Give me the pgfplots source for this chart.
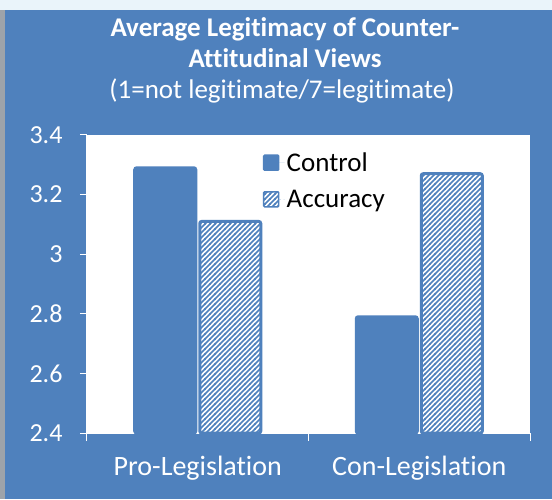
\documentclass[border=0pt]{standalone}
\usepackage{fontspec}
\setmainfont{Carlito}[Ligatures=NoCommon]
\usepackage{pgfplots}
\pgfplotsset{compat=1.18}
\usetikzlibrary{patterns}

\definecolor{bgblue}{HTML}{4F81BD}
\definecolor{stripcol}{HTML}{EAF4FA}
\definecolor{edgegray}{HTML}{9DA3AA}

\pgfdeclarepatternformonly{hatch}{\pgfqpoint{-1pt}{-1pt}}{\pgfqpoint{6pt}{6pt}}{\pgfqpoint{5pt}{5pt}}{%
  \pgfsetlinewidth{1.5pt}%
  \pgfpathmoveto{\pgfqpoint{-0.5pt}{-0.5pt}}%
  \pgfpathlineto{\pgfqpoint{5.5pt}{5.5pt}}%
  \pgfusepath{stroke}}

\begin{document}
\begin{tikzpicture}
\useasboundingbox (0,0) rectangle (552pt,499pt);
\fill[stripcol] (0,489pt) rectangle (552pt,499pt);
\fill[edgegray] (0,0) rectangle (5pt,489pt);
\fill[bgblue] (5pt,0) rectangle (552pt,489pt);

\node[white, font=\bfseries\fontsize{27}{31}\selectfont, align=center]
  at (285pt,456.5pt) {Average Legitimacy of Counter-\\Attitudinal Views};
\node[white, font=\fontsize{27}{30}\selectfont]
  at (282pt,408pt) {(1=not legitimate/7=legitimate)};

\begin{axis}[
    at={(87pt,66pt)}, anchor=south west,
    scale only axis,
    width=443pt, height=298pt,
    ybar=4pt, bar width=61pt,
    xmin=-0.5, xmax=1.5,
    ymin=2.4, ymax=3.4,
    axis background/.style={fill=white},
    axis line style={white, line width=1pt},
    axis x line*=bottom, axis y line*=left,
    xtick={0,1},
    xticklabels={Pro-Legislation, Con-Legislation},
    major x tick style={draw=none},
    minor xtick={-0.5,0.5,1.5},
    minor x tick style={white, line width=1pt},
    minor tick length=8pt,
    ytick={2.4,2.6,2.8,3,3.2,3.4},
    yticklabels={2.4,2.6,2.8,3,3.2,3.4},
    y tick style={white, line width=1pt},
    major tick length=7pt,
    tick align=outside,
    xticklabel style={white, font=\fontsize{28}{32}\selectfont, yshift=-13pt},
    yticklabel style={white, font=\fontsize{26}{30}\selectfont, xshift=-14pt},
    legend style={at={(0.39,0.955)}, anchor=north west, draw=none, fill=none,
        font=\fontsize{27}{31}\selectfont, row sep=13pt},
    legend cell align=left,
    legend image code/.code={\draw[#1, line width=1.5pt, rounded corners=1pt] (0pt,-7.5pt) rectangle (15pt,7.5pt);
        \path[draw=none] (0pt,0pt) -- (21pt,0pt);},
]
\addplot[fill=bgblue, draw=bgblue, line width=3pt, rounded corners=2pt]
coordinates {(0,3.29) (1,2.79)};
\addlegendentry{Control}
\addplot[pattern=hatch, pattern color=bgblue, draw=bgblue, line width=3pt, rounded corners=2pt]
coordinates {(0,3.11) (1,3.27)};
\addlegendentry{Accuracy}
\end{axis}
\end{tikzpicture}
\end{document}
